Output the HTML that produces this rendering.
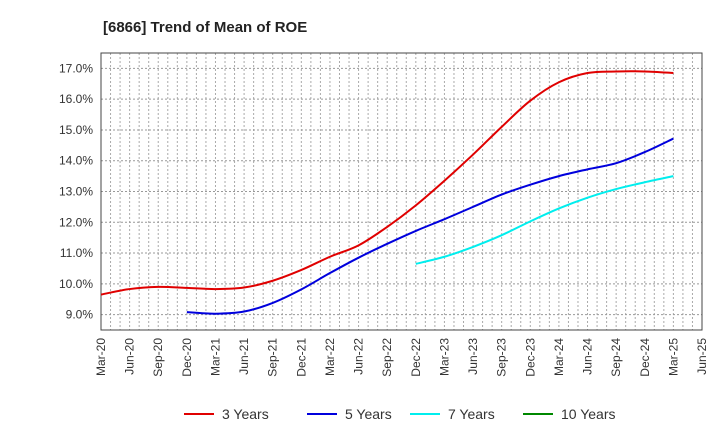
<!DOCTYPE html>
<html><head><meta charset="utf-8"><style>
body{margin:0;background:#fff;font-family:"Liberation Sans",Arial,sans-serif;}
</style></head><body>
<svg id="chart" width="720" height="440" xmlns="http://www.w3.org/2000/svg" font-family="Liberation Sans, Arial, sans-serif">
<text x="103" y="32" font-size="15" font-weight="bold" fill="#222">[6866]  Trend of Mean of ROE</text>
<g id="grid"></g>
<g id="axes"></g>
<g id="series"></g>
<g id="legend"></g>
</svg>
<script>
const xLabels=["Mar-20","Jun-20","Sep-20","Dec-20","Mar-21","Jun-21","Sep-21","Dec-21","Mar-22","Jun-22","Sep-22","Dec-22","Mar-23","Jun-23","Sep-23","Dec-23","Mar-24","Jun-24","Sep-24","Dec-24","Mar-25","Jun-25"];
const yTicks=[9,10,11,12,13,14,15,16,17];
const s3y=[9.65,9.83,9.9,9.87,9.83,9.88,10.1,10.45,10.88,11.25,11.85,12.55,13.35,14.2,15.1,15.95,16.55,16.85,16.9,16.9,16.85];
const s5y=[null,null,null,9.08,9.03,9.1,9.38,9.82,10.35,10.85,11.3,11.72,12.1,12.5,12.9,13.22,13.5,13.72,13.92,14.28,14.72];
const s7y=[null,null,null,null,null,null,null,null,null,null,null,10.65,10.88,11.2,11.58,12.03,12.45,12.8,13.08,13.3,13.5];
const s10y=[];
const seriesNames=["3 Years","5 Years","7 Years","10 Years"];
const seriesColors=["#e00000","#0000dd","#00eeee","#008800"];
const L=101,R=702,T=53,B=330,yMin=8.5,yMax=17.5;
const NS="http://www.w3.org/2000/svg";
const xs=i=>L+(R-L)*i/(xLabels.length-1);
const ys=v=>B-(B-T)*(v-yMin)/(yMax-yMin);
function mk(tag,attrs,parent){const e=document.createElementNS(NS,tag);for(const k in attrs)e.setAttribute(k,attrs[k]);parent.appendChild(e);return e;}
const grid=document.getElementById('grid'),axes=document.getElementById('axes'),ser=document.getElementById('series'),leg=document.getElementById('legend');
for(let m=1;m<(xLabels.length-1)*3;m++){const x=L+(R-L)*m/((xLabels.length-1)*3);
 const l=mk('line',{x1:x,x2:x,y1:T,y2:B,stroke:'#aaa','stroke-width':1,'stroke-dasharray':'2,2'},grid);
 }
yTicks.forEach(v=>{const l=mk('line',{x1:L,x2:R,y1:ys(v),y2:ys(v),stroke:'#999','stroke-width':1,'stroke-dasharray':'2,2'},grid);
 
 const t=mk('text',{x:L-8,y:ys(v)+4,'text-anchor':'end','font-size':12,fill:'#333'},axes);t.textContent=v.toFixed(1)+'%';
 });
const fr=mk('rect',{x:L,y:T,width:R-L,height:B-T,fill:'none',stroke:'#444','stroke-width':1},axes);

xLabels.forEach((lb,i)=>{const x=xs(i);const t=mk('text',{x:x+4,y:B+8,'text-anchor':'end','font-size':12,fill:'#333',transform:`rotate(-90 ${x+4} ${B+8})`},axes);t.textContent=lb;
 });
function path(arr){const p=[];arr.forEach((v,i)=>{if(v!=null)p.push([xs(i),ys(v)]);});if(p.length<2)return '';
 let d=`M${p[0][0]},${p[0][1]}`;for(let i=0;i<p.length-1;i++){const p0=p[i-1]||p[i],p1=p[i],p2=p[i+1],p3=p[i+2]||p2;
 d+=` C${p1[0]+(p2[0]-p0[0])/6},${p1[1]+(p2[1]-p0[1])/6} ${p2[0]-(p3[0]-p1[0])/6},${p2[1]-(p3[1]-p1[1])/6} ${p2[0]},${p2[1]}`;}return d;}
[s3y,s5y,s7y,s10y].forEach((a,k)=>{const d=path(a);if(!d)return;const e=mk('path',{d:d,fill:'none',stroke:seriesColors[k],'stroke-width':2},ser);
 });
const lx=[184,307,410,523];
seriesNames.forEach((n,k)=>{const g=mk('g',{},leg);
 mk('line',{x1:lx[k],x2:lx[k]+30,y1:414,y2:414,stroke:seriesColors[k],'stroke-width':2},g);
 const t=mk('text',{x:lx[k]+38,y:419,'font-size':14,fill:'#333'},g);t.textContent=n;});
</script>
</body></html>
